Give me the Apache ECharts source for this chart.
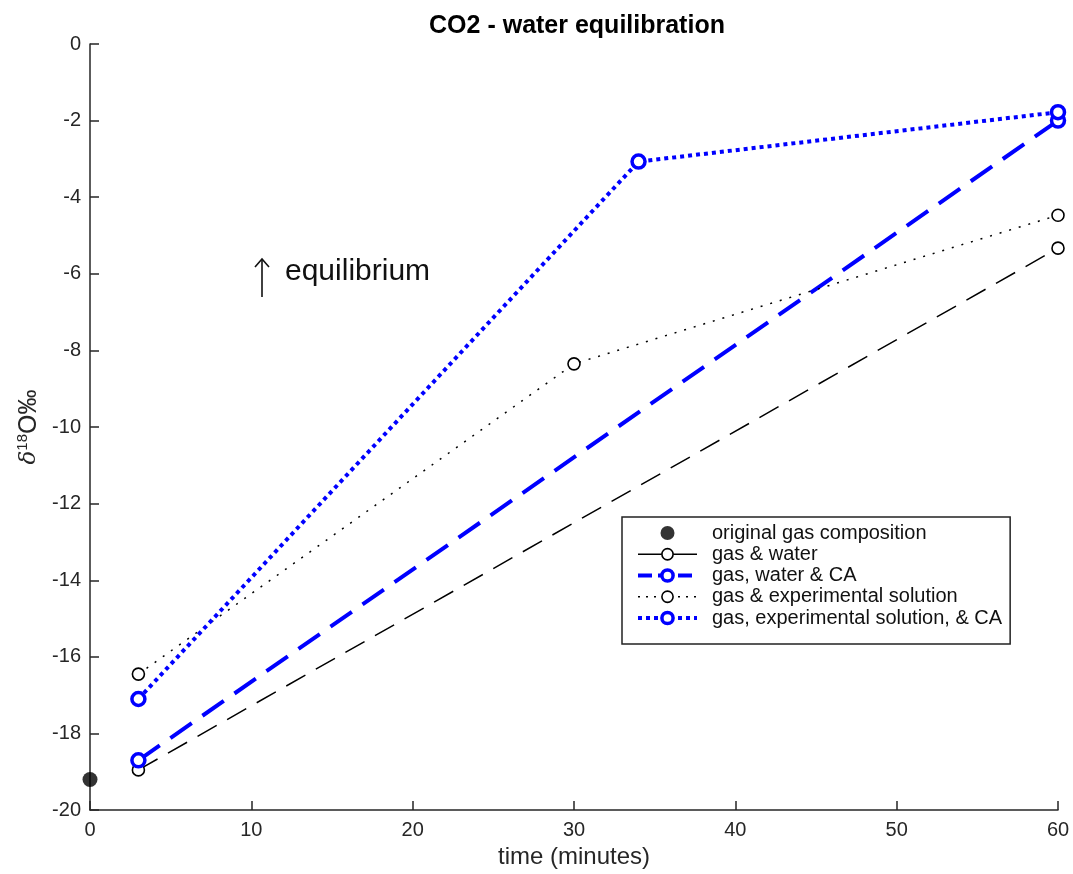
<!DOCTYPE html>
<html>
<head>
<meta charset="utf-8">
<script src="https://cdn.jsdelivr.net/npm/echarts@6/dist/echarts.min.js"></script>
<style>
  html, body { margin: 0; padding: 0; background: #fff; }
  #chart { width: 1073px; height: 874px; }
</style>
</head>
<body>
<div id="chart"></div>
<script>
// time (minutes) and delta-18O values for each treatment
const originalGas = [[0, -19.2]];
const gasWater = [[3, -18.95], [60, -5.33]];
const gasWaterCA = [[3, -18.7], [60, -2.0]];
const gasExpSolution = [[3, -16.45], [30, -8.35], [60, -4.47]];
const gasExpSolutionCA = [[3, -17.1], [34, -3.07], [60, -1.78]];

const seriesNames = [
  'original gas composition',
  'gas & water',
  'gas, water & CA',
  'gas & experimental solution',
  'gas, experimental solution, & CA'
];

const FONT = 'Liberation Sans, Arial, Helvetica, sans-serif';
const AXIS = '#262626';
const BLUE = '#0000ff';

const chart = echarts.init(document.getElementById('chart'));

chart.setOption({
  backgroundColor: '#fff',
  animation: false,
  title: {
    text: 'CO2 - water equilibration',
    left: 572,
    textAlign: 'center',
    top: 9,
    textStyle: { fontFamily: FONT, fontSize: 25, fontWeight: 'bold', color: '#000' }
  },
  grid: { left: 90, right: 15, top: 44, bottom: 62 },
  xAxis: {
    type: 'value',
    min: 0, max: 60, interval: 10,
    name: 'time (minutes)',
    nameLocation: 'middle',
    nameGap: 34,
    nameTextStyle: { fontFamily: FONT, fontSize: 24, color: AXIS },
    axisLine: { show: true, onZero: false, lineStyle: { color: AXIS, width: 1.5 } },
    axisTick: { show: true, inside: true, length: 9, lineStyle: { color: AXIS, width: 1.5 } },
    axisLabel: { fontFamily: FONT, fontSize: 20, color: AXIS, margin: 10 },
    splitLine: { show: false }
  },
  yAxis: {
    type: 'value',
    min: -20, max: 0, interval: 2,
    name: '{d|δ}{s|18}{n|O‰}',
    nameLocation: 'middle',
    nameGap: 43,
    nameRotate: 90,
    nameTextStyle: {
      color: AXIS,
      rich: {
        d: { fontFamily: 'DejaVu Serif, serif', fontStyle: 'italic', fontSize: 23, color: AXIS },
        s: { fontFamily: FONT, fontSize: 15, color: AXIS, verticalAlign: 'top', padding: [0, 0, 12, 0] },
        n: { fontFamily: FONT, fontSize: 25, color: AXIS }
      }
    },
    axisLine: { show: true, onZero: false, lineStyle: { color: AXIS, width: 1.5 } },
    axisTick: { show: true, inside: true, length: 9, lineStyle: { color: AXIS, width: 1.5 } },
    axisLabel: { fontFamily: FONT, fontSize: 20, color: AXIS, margin: 9 },
    splitLine: { show: false }
  },
  legend: {
    orient: 'vertical',
    left: 622,
    top: 517,
    padding: [6, 8, 16, 14],
    itemGap: 1.25,
    itemWidth: 59,
    itemHeight: 14,
    borderColor: '#222',
    borderWidth: 1.5,
    backgroundColor: '#fff',
    textStyle: { fontFamily: FONT, fontSize: 20, lineHeight: 20, color: '#111', padding: [0, 0, 0, 10] },
    data: [
      { name: seriesNames[0] },
      { name: seriesNames[1], lineStyle: { width: 1.5, type: 'solid' }, itemStyle: { borderWidth: 1.6 } },
      { name: seriesNames[2], lineStyle: { width: 4, type: [14, 6] }, itemStyle: { borderWidth: 3.5 } },
      { name: seriesNames[3], lineStyle: { width: 1.5, type: [2, 6] }, itemStyle: { borderWidth: 1.6 } },
      { name: seriesNames[4], lineStyle: { width: 4, type: [4, 4] }, itemStyle: { borderWidth: 3.5 } }
    ]
  },
  graphic: [
    {
      type: 'line',
      shape: { x1: 262, y1: 259, x2: 262, y2: 297 },
      style: { stroke: '#111', lineWidth: 1.6 }
    },
    {
      type: 'polyline',
      shape: { points: [[255, 267], [262, 259], [269, 267]] },
      style: { stroke: '#111', lineWidth: 1.6, fill: null }
    },
    {
      type: 'text',
      left: 285,
      top: 257,
      style: { text: 'equilibrium', fontFamily: FONT, fontSize: 30, fill: '#111' }
    }
  ],
  series: [
    {
      name: seriesNames[0],
      type: 'scatter',
      data: originalGas,
      symbol: 'circle',
      symbolSize: 15,
      itemStyle: { color: '#000' },
      z: 5
    },
    {
      name: seriesNames[1],
      type: 'line',
      data: gasWater,
      symbol: 'circle',
      symbolSize: 12,
      lineStyle: { color: '#000', width: 1.5, type: [22, 12] },
      itemStyle: { color: '#fff', borderColor: '#000', borderWidth: 1.6 }
    },
    {
      name: seriesNames[2],
      type: 'line',
      data: gasWaterCA,
      symbol: 'circle',
      symbolSize: 13,
      lineStyle: { color: BLUE, width: 4, type: [26, 13] },
      itemStyle: { color: '#fff', borderColor: BLUE, borderWidth: 3.5 }
    },
    {
      name: seriesNames[3],
      type: 'line',
      data: gasExpSolution,
      symbol: 'circle',
      symbolSize: 12,
      lineStyle: { color: '#000', width: 1.5, type: [2, 8] },
      itemStyle: { color: '#fff', borderColor: '#000', borderWidth: 1.6 }
    },
    {
      name: seriesNames[4],
      type: 'line',
      data: gasExpSolutionCA,
      symbol: 'circle',
      symbolSize: 13,
      lineStyle: { color: BLUE, width: 4, type: [4, 4] },
      itemStyle: { color: '#fff', borderColor: BLUE, borderWidth: 3.5 }
    }
  ]
});
</script>
</body>
</html>
